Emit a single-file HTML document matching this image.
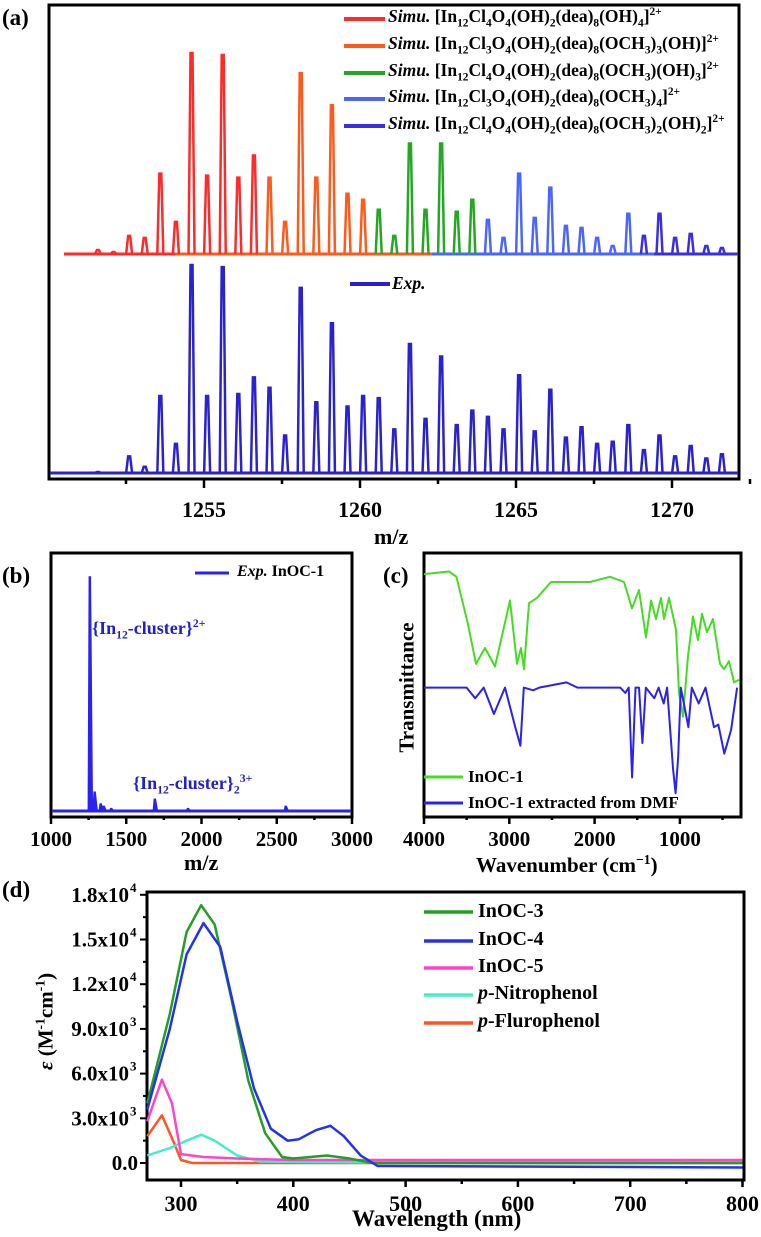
<!DOCTYPE html>
<html><head><meta charset="utf-8">
<style>
html,body{margin:0;padding:0;background:#fff;}
#wrap{position:relative;width:761px;height:1237px;overflow:hidden;font-family:"Liberation Serif",serif;font-weight:bold;color:#000;}
svg{position:absolute;left:0;top:0;}
.t{position:absolute;white-space:nowrap;font-family:"Liberation Serif",serif;font-weight:bold;line-height:1;}
.t sub,.t sup{font-size:65%;line-height:0;}
</style></head>
<body>
<div id="wrap">
<svg id="svg" width="761" height="1237" viewBox="0 0 761 1237"></svg>

<div class="t" style="left:2px;top:6px;font-size:23px">(a)</div>
<div class="t" style="left:388px;top:8px;font-size:17.5px"><i>Simu.</i> [In<sub>12</sub>Cl<sub>4</sub>O<sub>4</sub>(OH)<sub>2</sub>(dea)<sub>8</sub>(OH)<sub>4</sub>]<sup>2+</sup></div>
<div class="t" style="left:388px;top:35px;font-size:17.5px"><i>Simu.</i> [In<sub>12</sub>Cl<sub>3</sub>O<sub>4</sub>(OH)<sub>2</sub>(dea)<sub>8</sub>(OCH<sub>3</sub>)<sub>3</sub>(OH)]<sup>2+</sup></div>
<div class="t" style="left:388px;top:62px;font-size:17.5px"><i>Simu.</i> [In<sub>12</sub>Cl<sub>4</sub>O<sub>4</sub>(OH)<sub>2</sub>(dea)<sub>8</sub>(OCH<sub>3</sub>)(OH)<sub>3</sub>]<sup>2+</sup></div>
<div class="t" style="left:388px;top:88px;font-size:17.5px"><i>Simu.</i> [In<sub>12</sub>Cl<sub>3</sub>O<sub>4</sub>(OH)<sub>2</sub>(dea)<sub>8</sub>(OCH<sub>3</sub>)<sub>4</sub>]<sup>2+</sup></div>
<div class="t" style="left:388px;top:115px;font-size:17.5px"><i>Simu.</i> [In<sub>12</sub>Cl<sub>4</sub>O<sub>4</sub>(OH)<sub>2</sub>(dea)<sub>8</sub>(OCH<sub>3</sub>)<sub>2</sub>(OH)<sub>2</sub>]<sup>2+</sup></div>
<div class="t" style="left:392px;top:275px;font-size:17.5px"><i>Exp.</i></div>
<div class="t" style="left:374px;top:526px;font-size:22px">m/z</div>

<div class="t" style="left:2px;top:564px;font-size:23px">(b)</div>
<div class="t" style="left:237px;top:564px;font-size:16px"><i>Exp.</i> InOC-1</div>
<div class="t" style="left:92px;top:619px;font-size:18px;color:#2020cc">{In<sub>12</sub>-cluster}<sup>2+</sup></div>
<div class="t" style="left:133px;top:774px;font-size:18px;color:#2020cc">{In<sub>12</sub>-cluster}<sub>2</sub><sup>3+</sup></div>
<div class="t" style="left:184px;top:852px;font-size:22px">m/z</div>

<div class="t" style="left:383px;top:564px;font-size:23px">(c)</div>
<div class="t" style="left:468px;top:768px;font-size:17px">InOC-1</div>
<div class="t" style="left:468px;top:794px;font-size:17px">InOC-1 extracted from DMF</div>
<div class="t" style="left:476px;top:855px;font-size:21px">Wavenumber (cm<sup>−1</sup>)</div>
<div class="t" style="left:337px;top:677px;font-size:21px;transform:rotate(-90deg);transform-origin:center;width:140px;text-align:center">Transmittance</div>

<div class="t" style="left:2px;top:878px;font-size:23px">(d)</div>
<div class="t" style="left:478px;top:901px;font-size:20px">InOC-3</div>
<div class="t" style="left:478px;top:929px;font-size:20px">InOC-4</div>
<div class="t" style="left:478px;top:956px;font-size:20px">InOC-5</div>
<div class="t" style="left:478px;top:983px;font-size:20px"><i>p</i>-Nitrophenol</div>
<div class="t" style="left:478px;top:1011px;font-size:20px"><i>p</i>-Flurophenol</div>
<div class="t" style="left:352px;top:1207px;font-size:23px">Wavelength (nm)</div>
<div class="t" style="left:-38px;top:1011px;font-size:21px;transform:rotate(-90deg);transform-origin:center;width:168px;text-align:center"><i>ε</i> (M<sup>-1</sup>cm<sup>-1</sup>)</div>
</div>

<script>
// ---------- Panel (a) data ----------
const mzA = [1251.6,1252.1,1252.6,1253.1,1253.6,1254.1,1254.6,1255.1,1255.6,1256.1,1256.6,1257.1,1257.6,1258.1,1258.6,1259.1,1259.6,1260.1,1260.6,1261.1,1261.6,1262.1,1262.6,1263.1,1263.6,1264.1,1264.6,1265.1,1265.6,1266.1,1266.6,1267.1,1267.6,1268.1,1268.6,1269.1,1269.6,1270.1,1270.6,1271.1,1271.6];
const simIntensity = [2,1,9,8,40,16,100,39,99,38,49,38,16,90,38,74,30,27,22,9,55,22,55,21,27,17,8,40,18,33,14,13,8,4,20,9,20,8,10,4,3];
const simSeries = [0,0,0,0,0,0,0,0,0,0,0,1,1,1,1,1,1,1,2,2,2,2,2,2,2,3,3,3,3,3,3,3,3,3,3,4,4,4,4,4,4];
const expIntensity = [0.5,0,8,3,37,14,100,37,99,38,46,41,18,89,34,72,32,37,36,21,62,26,56,23,30,27,21,47,20,40,17,22,14,15,23,11,18,8,13,7,9];
const simColors = ['#ff2a2a','#ff5a1a','#22a822','#4a66ff','#3a2ee0'];
const ticksA = [1255,1260,1265,1270];
// ---------- Panel (b) data ----------
const mzB = [1258,1290,1330,1350,1400,1690,1910,2560];
const intB = [100,8,3,2,1,5,1,2];
const ticksB = [1000,1500,2000,2500,3000];
// ---------- Panel (c) data ----------
const wnGreen = [4000,3707,3620,3484,3390,3285,3168,2992,2910,2863,2828,2769,2675,2511,2054,1820,1655,1561,1479,1397,1338,1280,1221,1186,1128,1046,1010,964,905,846,788,741,682,612,530,483,424,366,307];
const tGreen = [92,93,91,73,58,64,57,82,58,64,56,81,83,89,89,91,89,79,86,68,82,75,83,75,83,71,47,38,61,76,67,77,70,75,58,56,59,51,52];
const wnBlue = [4000,3500,3400,3300,3180,3050,2930,2870,2830,2720,2650,2330,2200,1700,1640,1600,1560,1520,1480,1440,1400,1300,1250,1190,1150,1080,1050,1020,990,900,860,780,700,600,550,480,400,330];
const tBlue = [49,49,45,49,39,49,34,27,49,48,49,51,49,49,47,49,15,49,49,28,49,45,49,43,49,18,9,23,49,34,49,43,49,34,35,24,33,49];
const ticksC = [4000,3000,2000,1000];
// ---------- Panel (d) data ----------
const wlInOC3 = [270,290,305,318,330,345,360,375,390,400,430,450,470,800];
const epsInOC3 = [4000,10000,15500,17300,16000,11000,5500,2000,400,300,500,300,0,0];
const wlInOC4 = [270,290,305,320,335,350,365,380,395,405,420,433,445,460,475,800];
const epsInOC4 = [3600,9000,14000,16100,14500,9500,5000,2300,1500,1600,2200,2500,1800,500,-200,-300];
const wlInOC5 = [270,283,292,300,320,350,400,800];
const epsInOC5 = [2800,5600,4000,600,400,300,200,200];
const wlNitro = [270,290,305,318,330,350,370,450,800];
const epsNitro = [500,1000,1500,1900,1500,500,100,50,50];
const wlFluro = [270,283,293,300,310,800];
const epsFluro = [1800,3200,1500,200,0,0];
const ticksDX = [300,400,500,600,700,800];
const ticksDY = [0,3000,6000,9000,12000,15000,18000];
const ticksDYLabels = ['0.0','3.0x10','6.0x10','9.0x10','1.2x10','1.5x10','1.8x10'];
const ticksDYExp = ['','3','3','3','4','4','4'];

const NS='http://www.w3.org/2000/svg';
const svg=document.getElementById('svg');
function mk(tag,attrs,parent){const e=document.createElementNS(NS,tag);for(const k in attrs)e.setAttribute(k,attrs[k]);(parent||svg).appendChild(e);return e;}
function txt(x,y,s,size,anchor){const t=mk('text',{x:x,y:y,'font-family':'Liberation Serif, serif','font-weight':'bold','font-size':size,'text-anchor':anchor||'middle'});t.textContent=s;return t;}

const xA=m=>204+(m-1255)*31.2, yS=v=>254-v*2.01, yE=v=>473-v*2.08;
const xB=m=>51+(m-1000)*0.1505, yB=v=>811-v*2.34;
const xC=w=>424+(4000-w)*0.0853, yC=v=>817-v*2.64;
const xD=w=>181+(w-300)*1.123, yD=v=>1163-v*0.0149;

// ----- Panel a -----
mk('rect',{x:49,y:5,width:690,height:474,fill:'none',stroke:'#000','stroke-width':3});
const segs=[[64,175,'#ff2a2a'],[175,432,'#ff5a1a'],[432,738,'#4a66ff'],[654,738,'#3a2ee0']];
segs.forEach(s=>{const l=mk('line',{x1:s[0],x2:s[1],y1:254,y2:254,stroke:s[2],'stroke-width':3});

});
mzA.forEach((m,i)=>{const x=xA(m),top=yS(simIntensity[i]);
const p=mk('path',{d:`M${x-3},254 L${x-1},${top} L${x+1},${top} L${x+3},254`,fill:'none',stroke:simColors[simSeries[i]],'stroke-width':2.5});

});
mk('line',{x1:50,x2:738,y1:473,y2:473,stroke:'#2a22cc','stroke-width':3});
mzA.forEach((m,i)=>{const x=xA(m),top=yE(expIntensity[i]);
const p=mk('path',{d:`M${x-3},473 L${x-1},${top} L${x+1},${top} L${x+3},473`,fill:'none',stroke:'#2a22cc','stroke-width':2.5});

});
for(let m=1252.5;m<=1272.5;m+=2.5){const x=xA(m);const major=ticksA.includes(m);mk('line',{x1:x,x2:x,y1:479,y2:major?488:484,stroke:'#000','stroke-width':2.5});}
ticksA.forEach(m=>{const t=txt(xA(m),517,String(m),22);

});
const legY=[19,46,73,99,126];
legY.forEach((y,i)=>{mk('line',{x1:344,x2:385,y1:y,y2:y,stroke:simColors[i],'stroke-width':4});});
mk('line',{x1:350,x2:390,y1:284,y2:284,stroke:'#2a22cc','stroke-width':4});

// ----- Panel b -----
mk('rect',{x:51,y:553,width:301,height:264,fill:'none',stroke:'#000','stroke-width':3});
mk('line',{x1:52,x2:351,y1:811,y2:811,stroke:'#2a22ee','stroke-width':3});
mzB.forEach((m,i)=>{const x=xB(m),top=yB(intB[i]);
const p=mk('path',{d:`M${x-1.5},811 L${x-0.5},${top} L${x+0.5},${top} L${x+2.5},811`,fill:'#2a22ee',stroke:'#2a22ee','stroke-width':1.5});

});
for(let m=1000;m<=3000;m+=250){const x=xB(m);const major=ticksB.includes(m);mk('line',{x1:x,x2:x,y1:817,y2:major?824:820,stroke:'#000','stroke-width':2.5});}
ticksB.forEach(m=>{const t=txt(xB(m),846,String(m),21);

});
mk('line',{x1:195,x2:229,y1:573,y2:573,stroke:'#2a22ee','stroke-width':3});

// ----- Panel c -----
mk('rect',{x:424,y:553,width:317,height:264,fill:'none',stroke:'#000','stroke-width':3});
function poly(xs,ys,fx,fy,color,w,name){const d=xs.map((v,i)=>(i?'L':'M')+fx(v).toFixed(1)+','+fy(ys[i]).toFixed(1)).join(' ');
const p=mk('path',{d:d,fill:'none',stroke:color,'stroke-width':w,'stroke-linejoin':'round'});

return p;}
poly(wnGreen,tGreen,xC,yC,'#44dd22',2,'ir-inoc1-line');
poly(wnBlue,tBlue,xC,yC,'#2a22ee',2,'ir-inoc1-dmf-line');
for(let w=4000;w>=500;w-=500){const x=xC(w);const major=ticksC.includes(w);mk('line',{x1:x,x2:x,y1:817,y2:major?824:820,stroke:'#000','stroke-width':2.5});}
ticksC.forEach(w=>{const t=txt(xC(w),846,String(w),21);

});
mk('line',{x1:424,x2:463,y1:777,y2:777,stroke:'#44dd22','stroke-width':3});
mk('line',{x1:424,x2:463,y1:803,y2:803,stroke:'#2a22ee','stroke-width':3});

// ----- Panel d -----
mk('rect',{x:147,y:892,width:597,height:288,fill:'none',stroke:'#000','stroke-width':3});
poly(wlFluro,epsFluro,xD,yD,'#ff5522',2.5,'uv-flurophenol-line');
poly(wlNitro,epsNitro,xD,yD,'#44eecc',2.5,'uv-nitrophenol-line');
poly(wlInOC5,epsInOC5,xD,yD,'#ff44cc',2.5,'uv-inoc5-line');
poly(wlInOC3,epsInOC3,xD,yD,'#22a022',2.5,'uv-inoc3-line');
poly(wlInOC4,epsInOC4,xD,yD,'#2233ee',2.5,'uv-inoc4-line');
for(let w=300;w<=800;w+=50){const x=xD(w);const major=ticksDX.includes(w);mk('line',{x1:x,x2:x,y1:1180,y2:major?1187:1184,stroke:'#000','stroke-width':2.5});}
ticksDX.forEach(w=>{const t=txt(xD(w),1211,String(w),22);

});
for(let v=0;v<=18000;v+=1500){const y=yD(v);const major=ticksDY.includes(v);mk('line',{x1:147,x2:major?140:143,y1:y,y2:y,stroke:'#000','stroke-width':2});}
ticksDY.forEach((v,i)=>{const y=yD(v);const t=txt(ticksDYExp[i]?129:138,y+7,ticksDYLabels[i],21,'end');


if(ticksDYExp[i]){const e=txt(130,y-3,ticksDYExp[i],13,'start');

}});
const dCols=['#22a022','#2233ee','#ff44cc','#44eecc','#ff5522'];
[912,941,968,995,1023].forEach((y,i)=>{mk('line',{x1:424,x2:473,y1:y,y2:y,stroke:dCols[i],'stroke-width':3.5});});
</script>
</body></html>
